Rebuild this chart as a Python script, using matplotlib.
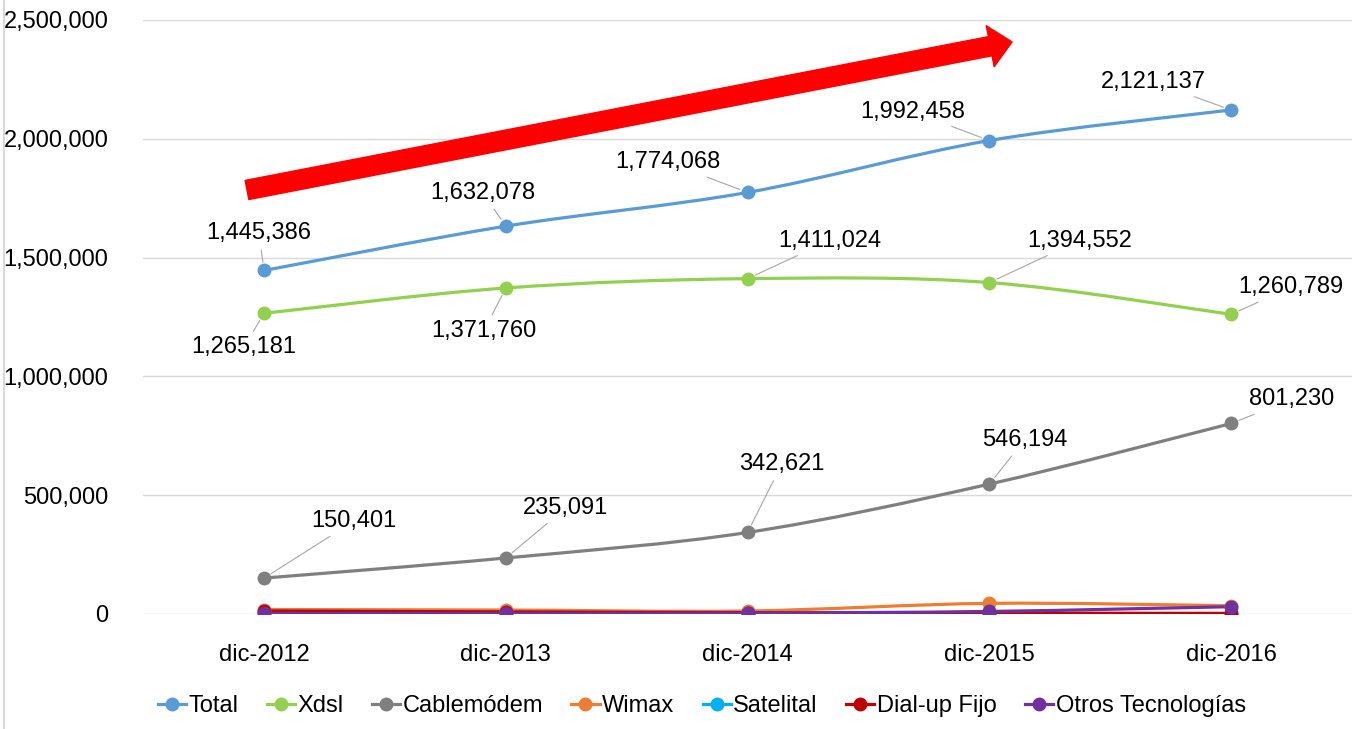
import numpy as np
import matplotlib.pyplot as plt
from matplotlib.path import Path
from matplotlib.patches import PathPatch, FancyArrowPatch
from matplotlib.lines import Line2D

plt.rcParams['font.family'] = ['Liberation Sans', 'DejaVu Sans']

# datos
periodos = ['dic-2012', 'dic-2013', 'dic-2014', 'dic-2015', 'dic-2016']
total = [1445386, 1632078, 1774068, 1992458, 2121137]
xdsl = [1265181, 1371760, 1411024, 1394552, 1260789]
cable = [150401, 235091, 342621, 546194, 801230]
wimax = [18000, 16000, 12000, 44000, 34000]
satelital = [1500, 1200, 1000, 900, 800]
dialup = [12000, 8000, 5000, 3000, 2000]
otros = [2000, 2000, 3000, 10000, 30000]

series = [
    ('Total', total, '#5B9BD5'),
    ('Xdsl', xdsl, '#92D050'),
    ('Cablemódem', cable, '#7F7F7F'),
    ('Wimax', wimax, '#ED7D31'),
    ('Satelital', satelital, '#00B0F0'),
    ('Dial-up Fijo', dialup, '#C00000'),
    ('Otros Tecnologías', otros, '#7030A0'),
]

# desplazamiento de etiquetas (pixeles) para las tres series con rótulos
off_total = [(-5, 37), (-23, 33), (-80, 30), (-77, 29), (-78, 28)]
off_xdsl = [(-20, -34), (-22, -43), (82, 38), (90, 42), (60, 27)]
off_cable = [(90, 57), (60, 50), (34, 68), (35, 44), (60, 24)]


def curva_suave(x, y):
    # curva tipo Excel (bezier) a través de los puntos
    pts = np.column_stack([x, y]).astype(float)
    n = len(pts)
    verts = [pts[0]]
    codes = [Path.MOVETO]
    for i in range(n - 1):
        p0 = pts[max(i - 1, 0)]
        p1 = pts[i]
        p2 = pts[i + 1]
        p3 = pts[min(i + 2, n - 1)]
        c1 = p1 + (p2 - p0) / 6.0
        c2 = p2 - (p3 - p1) / 6.0
        verts += [c1, c2, p2]
        codes += [Path.CURVE4] * 3
    return Path(verts, codes)


fig = plt.figure(figsize=(13.63, 7.29), dpi=100)
ax = fig.add_axes([0.105, 0.158, 0.887, 0.8146])

x = np.arange(len(periodos))
for nombre, vals, col in series:
    ax.add_patch(PathPatch(curva_suave(x, vals), facecolor='none', edgecolor=col,
                           lw=2.3, zorder=3, capstyle='round'))
    ax.plot(x, vals, linestyle='none', marker='o', markersize=9, color=col, zorder=4)

for vals, offs in [(total, off_total), (xdsl, off_xdsl), (cable, off_cable)]:
    for i, v in enumerate(vals):
        ax.annotate(f'{v:,}', (i, v), xytext=offs[i], textcoords='offset pixels',
                    ha='center', va='center', fontsize=17,
                    arrowprops=dict(arrowstyle='-', color='#A6A6A6', lw=0.8,
                                    shrinkA=2, shrinkB=6), zorder=5)

ax.set_xlim(-0.5, 4.5)
ax.set_ylim(0, 2500000)
ax.set_yticks(np.arange(0, 2500001, 500000))
ax.yaxis.set_major_formatter(plt.FuncFormatter(lambda v, p: f'{int(v):,}'))
ax.set_xticks(x)
ax.set_xticklabels(periodos)
ax.tick_params(axis='both', length=0, labelsize=17)
ax.tick_params(axis='y', pad=25)
ax.tick_params(axis='x', pad=22)
ax.grid(axis='y', color='#D9D9D9', lw=1)
ax.set_axisbelow(True)
for s in ax.spines.values():
    s.set_visible(False)

# flecha roja de tendencia
flecha = FancyArrowPatch((0.1812, 0.7394), (0.7425, 0.9424), transform=fig.transFigure,
                         arrowstyle='simple,head_length=1.6,head_width=3.0,tail_width=1.4',
                         mutation_scale=10, color='#FF0000', shrinkA=0, shrinkB=0, zorder=6)
fig.patches.append(flecha)

# borde izquierdo del área del gráfico
fig.add_artist(Line2D([0.003, 0.003], [0, 1], transform=fig.transFigure, color='#D9D9D9', lw=1.5))

handles = [Line2D([], [], color=c, lw=2.3, marker='o', markersize=9) for _, _, c in series]
ax.legend(handles, [s[0] for s in series], loc='center', bbox_to_anchor=(0.462, -0.155),
          ncol=7, frameon=False, fontsize=17, handlelength=1.2, handletextpad=0.1,
          columnspacing=1.2)

fig.savefig('out.png', dpi=100)
